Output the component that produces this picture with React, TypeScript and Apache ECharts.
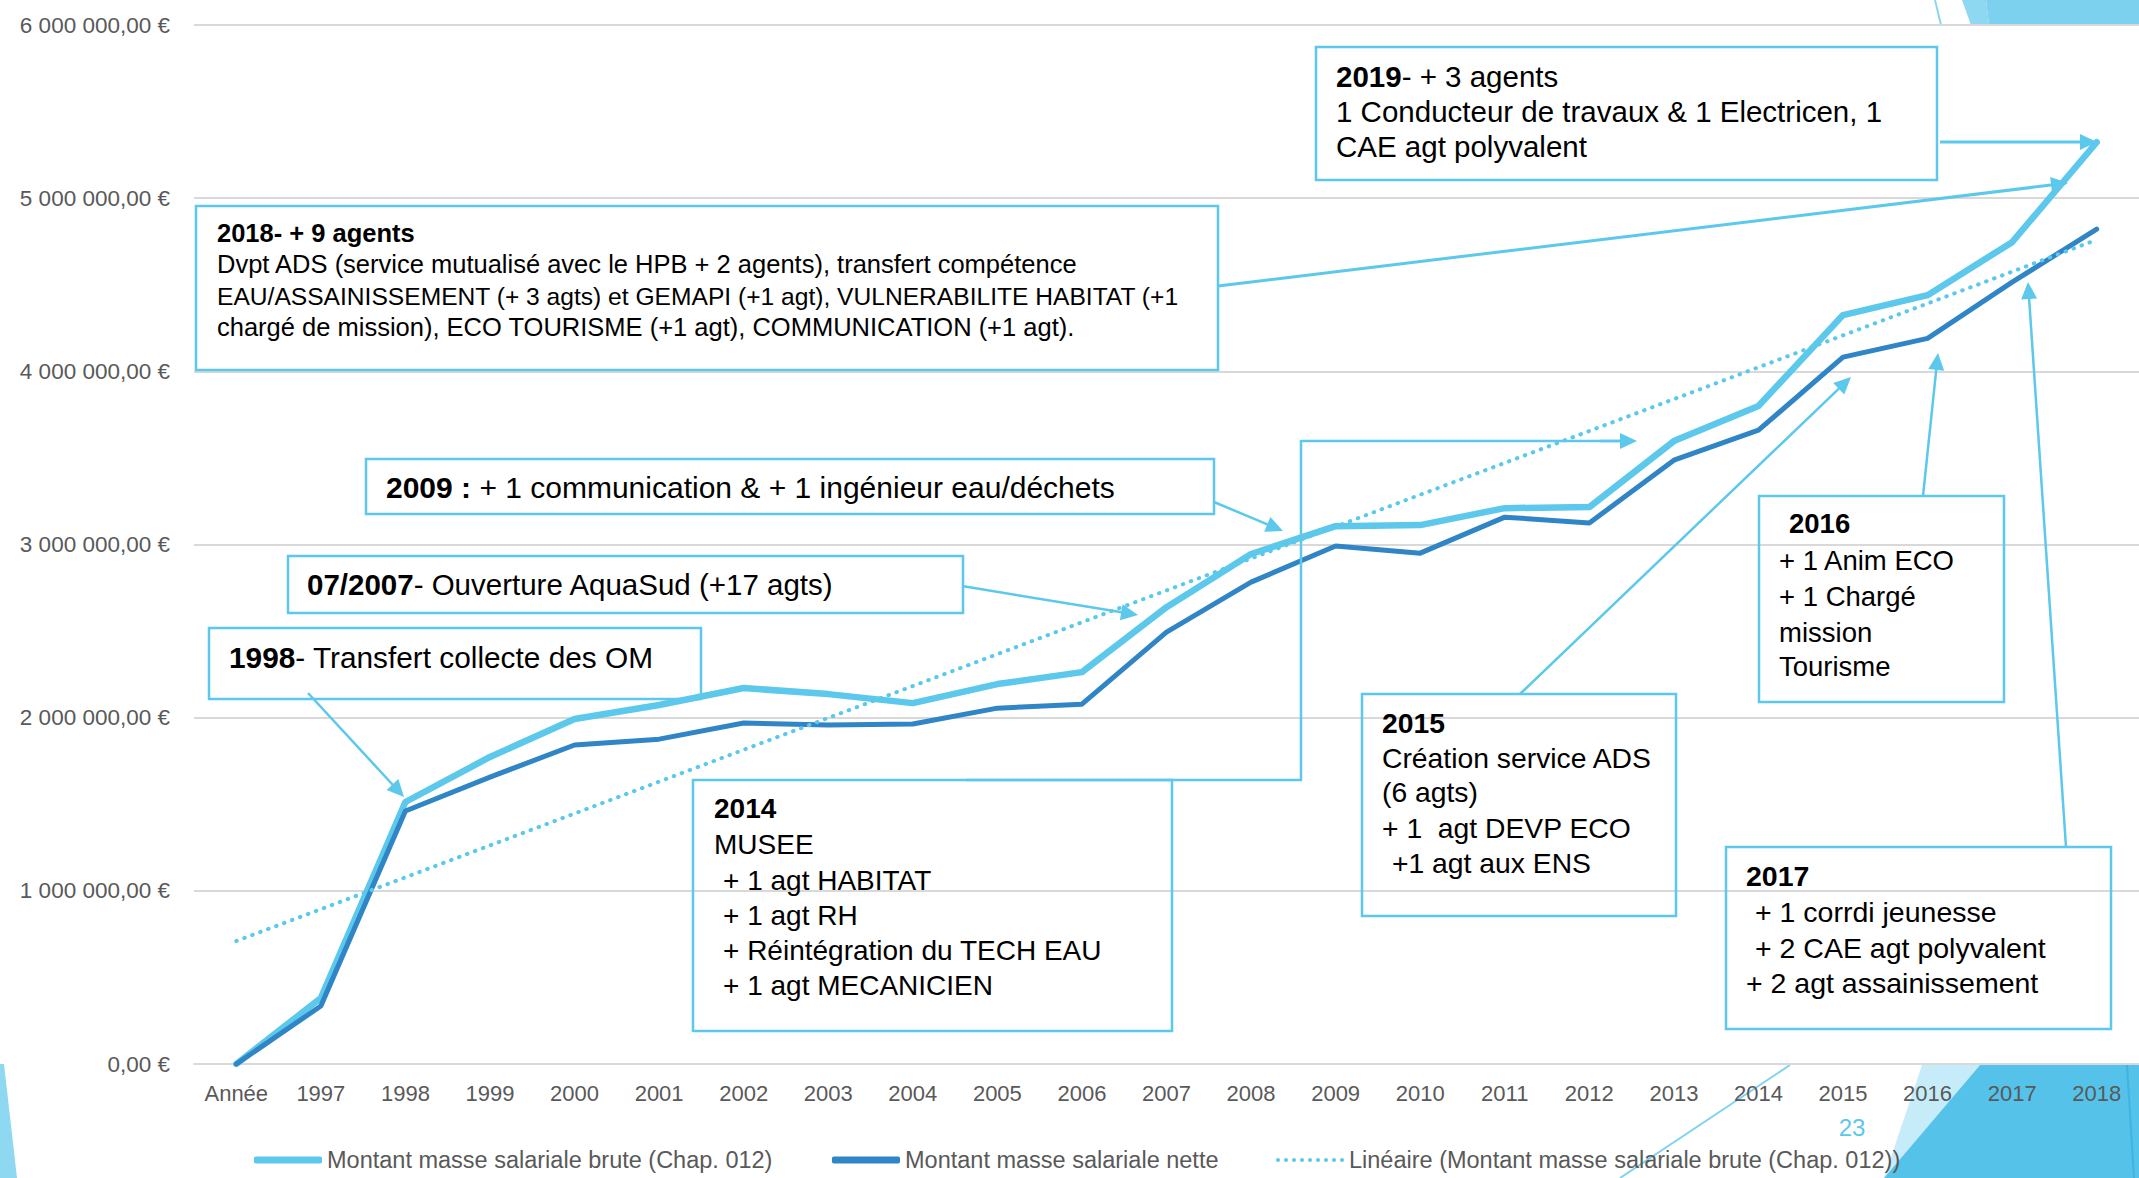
import React, { useEffect, useRef } from "react";
import * as echarts from "echarts";

const categories = ["Année", "1997", "1998", "1999", "2000", "2001", "2002", "2003", "2004", "2005", "2006", "2007", "2008", "2009", "2010", "2011", "2012", "2013", "2014", "2015", "2016", "2017", "2018"];
const brute = [0, 381000, 1513000, 1773000, 1992000, 2073000, 2171000, 2136000, 2084000, 2194000, 2263000, 2638000, 2945000, 3106000, 3112000, 3210000, 3216000, 3597000, 3800000, 4325000, 4440000, 4746000, 5323000];
const nette = [0, 335000, 1461000, 1657000, 1842000, 1876000, 1969000, 1957000, 1963000, 2055000, 2078000, 2494000, 2783000, 2991000, 2950000, 3158000, 3124000, 3487000, 3660000, 4082000, 4190000, 4515000, 4821000];
const trendStart = 710000;
const trendEnd = 4760000;
const seriesNames = [
  "Montant masse salariale brute (Chap. 012)",
  "Montant masse salariale nette",
  "Linéaire (Montant masse salariale brute (Chap. 012))",
];
const pageNumber = "23";

const FONT = "'Liberation Sans', Arial, sans-serif";
const LIGHT = "#5BC8EC";
const DARK = "#2F85C5";
const BOX = "#5BC8EC";

function fmtEuro(v: number) {
  const s = String(Math.round(v)).replace(/\B(?=(\d{3})+(?!\d))/g, " ");
  return s + ",00 €";
}

function dotsIcon() {
  let d = "";
  for (let i = 0; i < 9; i++) {
    const cx = 2 + i * 8;
    d += `M${cx - 2},2a2,2 0 1,0 4,0a2,2 0 1,0 -4,0z`;
  }
  return "path://" + d;
}

function textLine(x: number, y: number, text: string, size: number, bold = false): any {
  return {
    type: "text",
    x,
    y,
    z: 30,
    style: {
      text,
      fontSize: size,
      fontFamily: FONT,
      fontWeight: bold ? "bold" : "normal",
      fill: "#000000",
      align: "left",
      verticalAlign: "middle",
      rich: {
        b: { fontSize: size, fontFamily: FONT, fontWeight: "bold", fill: "#000000" },
      },
    },
  };
}

function box(x: number, y: number, w: number, h: number): any {
  return {
    type: "rect",
    z: 25,
    shape: { x, y, width: w, height: h },
    style: { fill: "rgba(0,0,0,0)", stroke: BOX, lineWidth: 2.5 },
  };
}

function arrow(x1: number, y1: number, x2: number, y2: number, lw = 2.5, hl = 17, hw = 8): any[] {
  const dx = x2 - x1;
  const dy = y2 - y1;
  const len = Math.sqrt(dx * dx + dy * dy);
  const ux = dx / len;
  const uy = dy / len;
  const bx = x2 - ux * hl;
  const by = y2 - uy * hl;
  const px = -uy;
  const py = ux;
  return [
    {
      type: "line",
      z: 26,
      shape: { x1, y1, x2: bx + ux * 2, y2: by + uy * 2 },
      style: { stroke: BOX, lineWidth: lw },
    },
    {
      type: "polygon",
      z: 26,
      shape: {
        points: [
          [x2, y2],
          [bx + px * hw, by + py * hw],
          [bx - px * hw, by - py * hw],
        ],
      },
      style: { fill: BOX },
    },
  ];
}

function buildGraphics(): any[] {
  const g: any[] = [];
  // slide decorations
  g.push({ type: "polygon", z: -10, shape: { points: [[1962, 0], [1986, 0], [1989, 25], [1971, 25]] }, style: { fill: "#8FD8F1" } });
  g.push({ type: "polygon", z: -10, shape: { points: [[1986, 0], [2139, 0], [2139, 25], [1989, 25]] }, style: { fill: "#7CD2EE" } });
  g.push({ type: "line", z: -10, shape: { x1: 1935, y1: 0, x2: 1941, y2: 25 }, style: { stroke: "#8AD6F1", lineWidth: 2 } });
  g.push({ type: "polygon", z: -10, shape: { points: [[1922, 1065], [1980, 1065], [1884, 1178]] }, style: { fill: "#C6ECF9" } });
  g.push({ type: "polygon", z: -10, shape: { points: [[1980, 1065], [2139, 1065], [2139, 1178], [1884, 1178]] }, style: { fill: "#55C2EA" } });
  g.push({ type: "line", z: -10, shape: { x1: 1790, y1: 1065, x2: 1620, y2: 1178 }, style: { stroke: "#7FD3EF", lineWidth: 2 } });
  g.push({ type: "line", z: -10, shape: { x1: 2127, y1: 1065, x2: 2134, y2: 1178 }, style: { stroke: "#3FB3E2", lineWidth: 2 } });
  g.push({ type: "polygon", z: -10, shape: { points: [[0, 1064], [4, 1064], [17, 1178], [0, 1178]] }, style: { fill: "#8FD8F1" } });

  // page number
  g.push({
    type: "text", x: 1852, y: 1127, z: 5,
    style: { text: pageNumber, fontSize: 24, fontFamily: FONT, fill: LIGHT, align: "center", verticalAlign: "middle" },
  });

  // 2019 box
  g.push(box(1316, 47, 621, 133));
  g.push(textLine(1336, 76, "{b|2019}- + 3 agents", 29.5));
  g.push(textLine(1336, 111, "1 Conducteur de travaux & 1 Electricen, 1", 29.5));
  g.push(textLine(1336, 146, "CAE agt polyvalent", 29.5));
  g.push(...arrow(1940, 142, 2097, 142, 3));

  // 2018 box
  g.push(box(196, 206, 1022, 164));
  g.push(textLine(217, 233, "2018- + 9 agents", 25.5, true));
  g.push(textLine(217, 264, "Dvpt ADS (service mutualisé avec le HPB + 2 agents), transfert compétence", 25.5));
  g.push(textLine(217, 296, "EAU/ASSAINISSEMENT (+ 3 agts) et GEMAPI (+1 agt), VULNERABILITE HABITAT (+1", 24.6));
  g.push(textLine(217, 327, "chargé de mission), ECO TOURISME (+1 agt), COMMUNICATION (+1 agt).", 25.5));
  g.push(...arrow(1218, 286, 2068, 183, 3));

  // 2009 box
  g.push(box(366, 459, 848, 55));
  g.push(textLine(386, 487, "{b|2009 :} + 1 communication & + 1 ingénieur eau/déchets", 30));
  g.push(...arrow(1214, 502, 1283, 531));

  // 07/2007 box
  g.push(box(288, 556, 675, 57));
  g.push(textLine(307, 584, "{b|07/2007}- Ouverture AquaSud (+17 agts)", 29.5));
  g.push(...arrow(962, 586, 1138, 615));

  // 1998 box
  g.push(box(209, 628, 492, 71));
  g.push(textLine(229, 657, "{b|1998}- Transfert collecte des OM", 29.8));
  g.push(...arrow(308, 693, 404, 797));

  // 2014 box
  g.push(box(693, 780, 479, 251));
  g.push(textLine(714, 808, "2014", 28, true));
  g.push(textLine(714, 844, "MUSEE", 28));
  g.push(textLine(723, 880, "+ 1 agt HABITAT", 28));
  g.push(textLine(723, 915, "+ 1 agt RH", 28));
  g.push(textLine(723, 950, "+ Réintégration du TECH EAU", 28));
  g.push(textLine(723, 985, "+ 1 agt MECANICIEN", 28));
  g.push({
    type: "polyline", z: 26,
    shape: { points: [[966, 780], [1301, 780], [1301, 441], [1622, 441]] },
    style: { stroke: BOX, lineWidth: 2.5, fill: null },
  });
  g.push(...arrow(1600, 441, 1637, 441));

  // 2015 box
  g.push(box(1362, 694, 314, 222));
  g.push(textLine(1382, 723, "2015", 28.3, true));
  g.push(textLine(1382, 758, "Création service ADS", 28.3));
  g.push(textLine(1382, 792, "(6 agts)", 28.3));
  g.push(textLine(1382, 828, "+ 1  agt DEVP ECO", 28.3));
  g.push(textLine(1392, 863, "+1 agt aux ENS", 28.3));
  g.push(...arrow(1520, 694, 1851, 377));

  // 2016 box
  g.push(box(1759, 496, 245, 206));
  g.push(textLine(1789, 523, "2016", 27.5, true));
  g.push(textLine(1779, 560, "+ 1 Anim ECO", 27.5));
  g.push(textLine(1779, 596, "+ 1 Chargé", 27.5));
  g.push(textLine(1779, 632, "mission", 27.5));
  g.push(textLine(1779, 666, "Tourisme", 27.5));
  g.push(...arrow(1923, 496, 1938, 353));

  // 2017 box
  g.push(box(1726, 847, 385, 182));
  g.push(textLine(1746, 876, "2017", 28.5, true));
  g.push(textLine(1755, 912, "+ 1 corrdi jeunesse", 28.5));
  g.push(textLine(1755, 948, "+ 2 CAE agt polyvalent", 28.5));
  g.push(textLine(1746, 983, "+ 2 agt assainissement", 28.5));
  g.push(...arrow(2066, 847, 2028, 282));

  return g;
}

function legendAt(left: number, name: string, icon: string): any {
  return {
    left,
    top: 1143,
    itemWidth: 68,
    itemHeight: 7,
    symbolKeepAspect: true,
    textStyle: { color: "#595959", fontSize: 23.5, lineHeight: 24, fontFamily: FONT },
    data: [{ name, icon }],
  };
}

export default function App() {
  const ref = useRef<HTMLDivElement>(null);
  useEffect(() => {
    document.body.style.margin = "0";
    if (!ref.current) return;
    const chart = echarts.init(ref.current, null, { renderer: "svg" });
    const trend: (number | null)[] = categories.map(() => null);
    trend[0] = trendStart;
    trend[categories.length - 1] = trendEnd;
    chart.setOption({
      animation: false,
      backgroundColor: "#ffffff",
      grid: { left: 194, top: 25, width: 1955, height: 1039, containLabel: false },
      xAxis: {
        type: "category",
        data: categories,
        boundaryGap: true,
        axisLine: { show: true, lineStyle: { color: "#D9D9D9", width: 2 } },
        axisTick: { show: false },
        axisLabel: { color: "#595959", fontSize: 22, fontFamily: FONT, margin: 18, interval: 0 },
        splitLine: { show: false },
      },
      yAxis: {
        type: "value",
        min: 0,
        max: 6000000,
        interval: 1000000,
        axisLine: { show: false },
        axisTick: { show: false },
        axisLabel: { color: "#595959", fontSize: 22.5, fontFamily: FONT, margin: 24, formatter: (v: number) => fmtEuro(v) },
        splitLine: { lineStyle: { color: "#D9D9D9", width: 2 } },
      },
      legend: [
        legendAt(249, seriesNames[0], "roundRect"),
        legendAt(827, seriesNames[1], "roundRect"),
        legendAt(1271, seriesNames[2], dotsIcon()),
      ],
      graphic: buildGraphics(),
      series: [
        {
          name: seriesNames[0],
          type: "line",
          data: brute,
          symbol: "none",
          lineStyle: { color: LIGHT, width: 6.5, cap: "round", join: "round" },
          itemStyle: { color: LIGHT },
        },
        {
          name: seriesNames[1],
          type: "line",
          data: nette,
          symbol: "none",
          lineStyle: { color: DARK, width: 5, cap: "round", join: "round" },
          itemStyle: { color: DARK },
        },
        {
          name: seriesNames[2],
          type: "line",
          data: trend,
          connectNulls: true,
          symbol: "none",
          lineStyle: { color: LIGHT, width: 4, type: [0.5, 8], cap: "round" },
          itemStyle: { color: LIGHT },
        },
      ],
    });
    return () => chart.dispose();
  }, []);
  return <div ref={ref} style={{ width: 2139, height: 1178 }} />;
}
